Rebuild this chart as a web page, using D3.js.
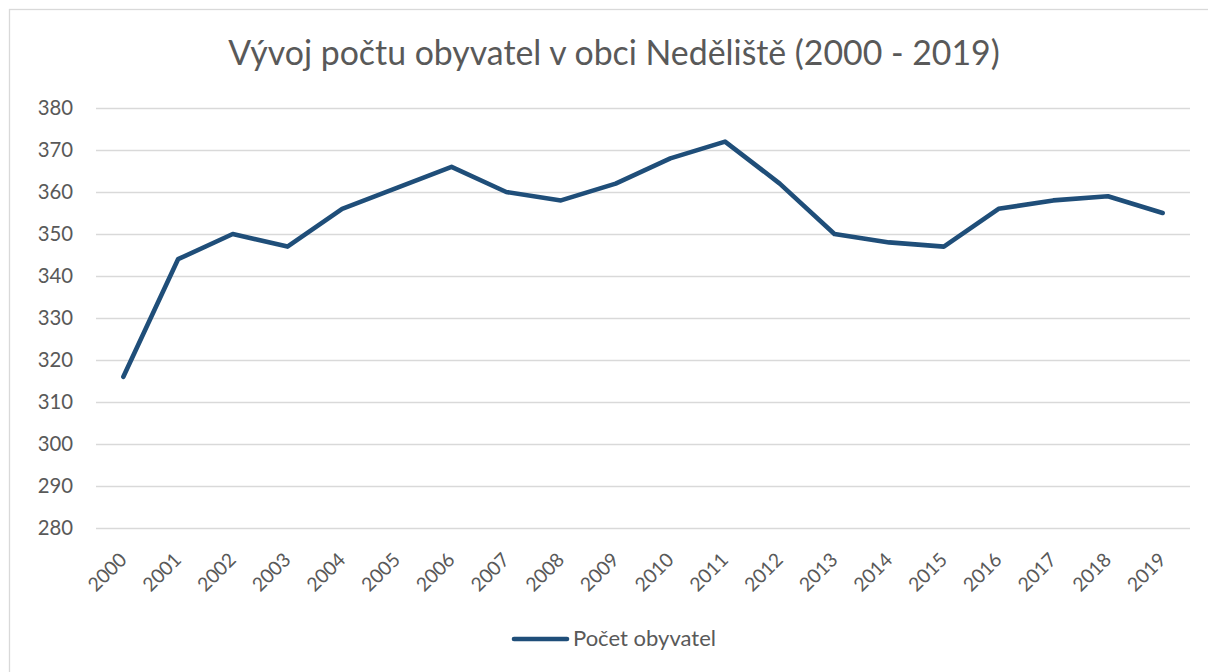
<!DOCTYPE html>
<html><head><meta charset="utf-8">
<script src="https://cdn.jsdelivr.net/npm/d3@7"></script>
<style>body{margin:0;background:#fff}svg{display:block}</style>
</head><body>
<svg id="c" width="1208" height="672"></svg>
<script>
const years = ["2000","2001","2002","2003","2004","2005","2006","2007","2008","2009","2010","2011","2012","2013","2014","2015","2016","2017","2018","2019"];
const population = [316,344,350,347,356,361,366,360,358,362,368,372,362,350,348,347,356,358,359,355];
const yTicks = [280,290,300,310,320,330,340,350,360,370,380];
const title = "Vývoj počtu obyvatel v obci Neděliště (2000 - 2019)";
const seriesName = "Počet obyvatel";

(function(){
const svg = d3.select("#c");
const font = "Lato, 'Open Sans', sans-serif";
const txt = "#595959";

// measure helper: font size giving a target width for a sample string
function fitSize(sample, target){
  const m = svg.append("text").attr("font-family",font).attr("font-size",20).text(sample);
  const w = m.node().getComputedTextLength(); m.remove();
  return 20*target/w;
}
const ySize = fitSize("380", 35.4);
const xSize = fitSize("2000", 45);
const lSize = fitSize(seriesName, 143);

svg.append("rect").attr("x",9.5).attr("y",9.5).attr("width",1220).attr("height",700)
  .attr("fill","#fff").attr("stroke","#d9d9d9").attr("stroke-width",1.3);

const pL = 96, pR = 1190, pT = 108, pB = 528;
const x = d3.scalePoint().domain(years).range([pL,pR]).padding(0.5);
const y = d3.scaleLinear().domain([280,380]).range([pB,pT]);

svg.append("text").attr("x",614).attr("y",65).attr("text-anchor","middle")
  .attr("font-family",font).attr("font-size",fitSize(title,772)).attr("fill",txt).text(title);

const gy = svg.append("g").attr("transform",`translate(${pL},0)`)
  .call(d3.axisLeft(y).tickValues(yTicks).tickSize(-(pR-pL)).tickPadding(23));
gy.select(".domain").remove();
gy.selectAll(".tick line").attr("stroke","#d9d9d9").attr("stroke-width",1.3);
gy.selectAll(".tick text").attr("font-family",font).attr("font-size",ySize).attr("fill",txt);

const gx = svg.append("g").attr("transform",`translate(0,${pB})`)
  .call(d3.axisBottom(x).tickSize(0).tickPadding(0));
gx.select(".domain").remove();
gx.selectAll(".tick text").attr("font-family",font).attr("font-size",xSize).attr("fill",txt)
  .attr("text-anchor","end").attr("dy",null).attr("y",null)
  .attr("transform","translate(4,33) rotate(-45)");

svg.append("path").datum(population)
  .attr("d", d3.line().x((d,i)=>x(years[i])).y(d=>y(d)))
  .attr("fill","none").attr("stroke","#1f4e79").attr("stroke-width",4.6)
  .attr("stroke-linejoin","round").attr("stroke-linecap","round");

svg.append("line").attr("x1",514).attr("x2",567).attr("y1",639).attr("y2",639)
  .attr("stroke","#1f4e79").attr("stroke-width",4.6).attr("stroke-linecap","round");
svg.append("text").attr("x",573).attr("y",646).attr("font-family",font).attr("font-size",lSize)
  .attr("fill",txt).text(seriesName);
})();
</script>
</body></html>
